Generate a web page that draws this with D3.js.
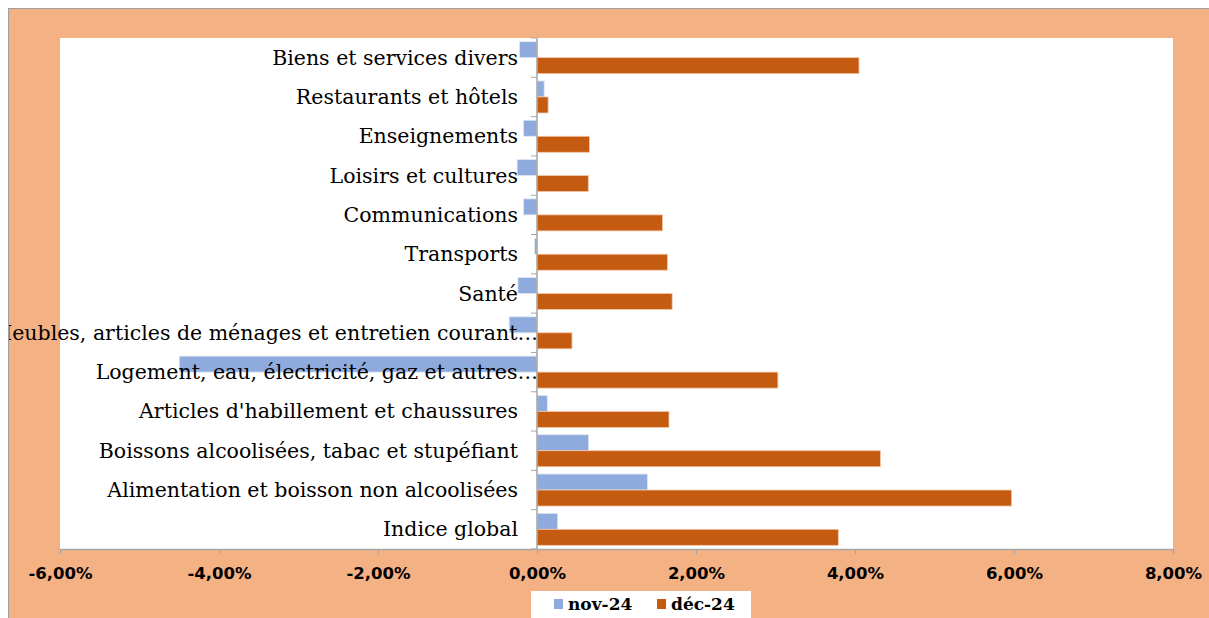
<!DOCTYPE html>
<html><head><meta charset="utf-8">
<script src="https://cdn.jsdelivr.net/npm/d3@7"></script>
<style>html,body{margin:0;padding:0;background:#fff;}svg{display:block;}</style>
</head><body>
<script>
const categories = [
  "Biens et services divers",
  "Restaurants et hôtels",
  "Enseignements",
  "Loisirs et cultures",
  "Communications",
  "Transports",
  "Santé",
  "Meubles, articles de ménages et entretien courant…",
  "Logement, eau, électricité, gaz et autres…",
  "Articles d'habillement et chaussures",
  "Boissons alcoolisées, tabac et stupéfiant",
  "Alimentation et boisson non alcoolisées",
  "Indice global"
];
const seriesNames = ["nov-24", "déc-24"];
const nov24 = [-0.22, 0.09, -0.17, -0.25, -0.17, -0.03, -0.24, -0.35, -4.50, 0.13, 0.65, 1.39, 0.26];
const dec24 = [4.05, 0.14, 0.66, 0.645, 1.58, 1.64, 1.70, 0.44, 3.03, 1.66, 4.32, 5.97, 3.79];
const xTicks = [-6, -4, -2, 0, 2, 4, 6, 8];
const colors = ["#8FAADC", "#C55A11"];

const W = 1209, H = 618;
const plot = {left: 60, right: 1173, top: 38, bottom: 549};

const svg = d3.select("body").append("svg").attr("width", W).attr("height", H);

// outer frame
svg.append("rect").attr("x", 8.5).attr("y", 8.5).attr("width", W).attr("height", H)
  .attr("fill", "#F4B183").attr("stroke", "#A0A0A0").attr("stroke-width", 1);

svg.append("defs").append("clipPath").attr("id", "frameClip")
  .append("rect").attr("x", 9).attr("y", 9).attr("width", W).attr("height", H);

// plot area
svg.append("rect").attr("x", plot.left).attr("y", plot.top)
  .attr("width", plot.right - plot.left).attr("height", plot.bottom - plot.top)
  .attr("fill", "#fff");

const x = d3.scaleLinear().domain([-6, 8]).range([plot.left, plot.right]);
const y = d3.scaleBand().domain(categories).range([plot.top, plot.bottom])
  .paddingInner(0.186).paddingOuter(0.093);
const ys = d3.scaleBand().domain(seriesNames).range([0, y.bandwidth()]);

const data = categories.map((c, i) => ({cat: c, vals: [nov24[i], dec24[i]]}));

const g = svg.append("g");
const groups = g.selectAll("g.cat").data(data).join("g").attr("class", "cat")
  .attr("transform", d => `translate(0,${y(d.cat)})`);
groups.selectAll("rect").data(d => d.vals.map((v, k) => ({v, k})))
  .join("rect")
  .attr("x", d => x(Math.min(0, d.v)))
  .attr("width", d => Math.abs(x(d.v) - x(0)))
  .attr("y", d => ys(seriesNames[d.k]))
  .attr("height", ys.bandwidth())
  .attr("fill", d => colors[d.k])
  .attr("stroke", d => d.k === 0 ? "#dfe7f5" : "#f3c7a8")
  .attr("stroke-width", 0.8);

// x axis
const xAxis = d3.axisBottom(x).tickValues(xTicks).tickSize(5)
  .tickFormat(d => d3.format(".2f")(d).replace("−", "-").replace(".", ",") + "%");
const xa = svg.append("g").attr("transform", `translate(0,${plot.bottom})`).call(xAxis);
xa.select(".domain").attr("stroke", "#A6A6A6").attr("stroke-width", 1.5);
xa.selectAll(".tick line").attr("stroke", "#A6A6A6");
xa.selectAll(".tick text").attr("fill", "#000").attr("font-family", "'DejaVu Sans', sans-serif")
  .attr("font-weight", "bold").attr("font-size", "16.5px").attr("dy", 0).attr("y", 30);

// category axis at x=0
const step = y.step();
const catAxis = svg.append("g");
catAxis.append("line").attr("x1", x(0)).attr("x2", x(0))
  .attr("y1", plot.top).attr("y2", plot.bottom)
  .attr("stroke", "#A6A6A6").attr("stroke-width", 1.5);
const bounds = d3.range(categories.length + 1).map(i => plot.top + i * step);
catAxis.selectAll("line.tk").data(bounds).join("line").attr("class", "tk")
  .attr("x1", x(0) - 6).attr("x2", x(0)).attr("y1", d => d).attr("y2", d => d)
  .attr("stroke", "#A6A6A6").attr("stroke-width", 1);

const labels = svg.append("g").attr("clip-path", "url(#frameClip)");
labels.selectAll("text").data(categories).join("text")
  .attr("x", d => d.endsWith("…") ? x(0) + 1 : x(0) - 19)
  .attr("y", d => y(d) + y.bandwidth() / 2)
  .attr("text-anchor", "end").attr("dominant-baseline", "central")
  .attr("font-family", "'DejaVu Serif', serif").attr("font-size", "20.5px")
  .attr("fill", "#000")
  .text(d => d);

// legend
const lg = svg.append("g");
lg.append("rect").attr("x", 531).attr("y", 591).attr("width", 220).attr("height", 27).attr("fill", "#fff");
const items = lg.selectAll("g.it").data(seriesNames).join("g").attr("class", "it")
  .attr("transform", (d, i) => `translate(${554 + i * 103},0)`);
items.append("rect").attr("x", 0).attr("y", 599).attr("width", 9).attr("height", 10)
  .attr("fill", (d, i) => colors[i]);
items.append("text").attr("x", 14).attr("y", 604).attr("dominant-baseline", "central")
  .attr("font-family", "'DejaVu Serif', serif").attr("font-weight", "bold")
  .attr("font-size", "17px").attr("fill", "#000").text(d => d);
</script>
</body></html>
